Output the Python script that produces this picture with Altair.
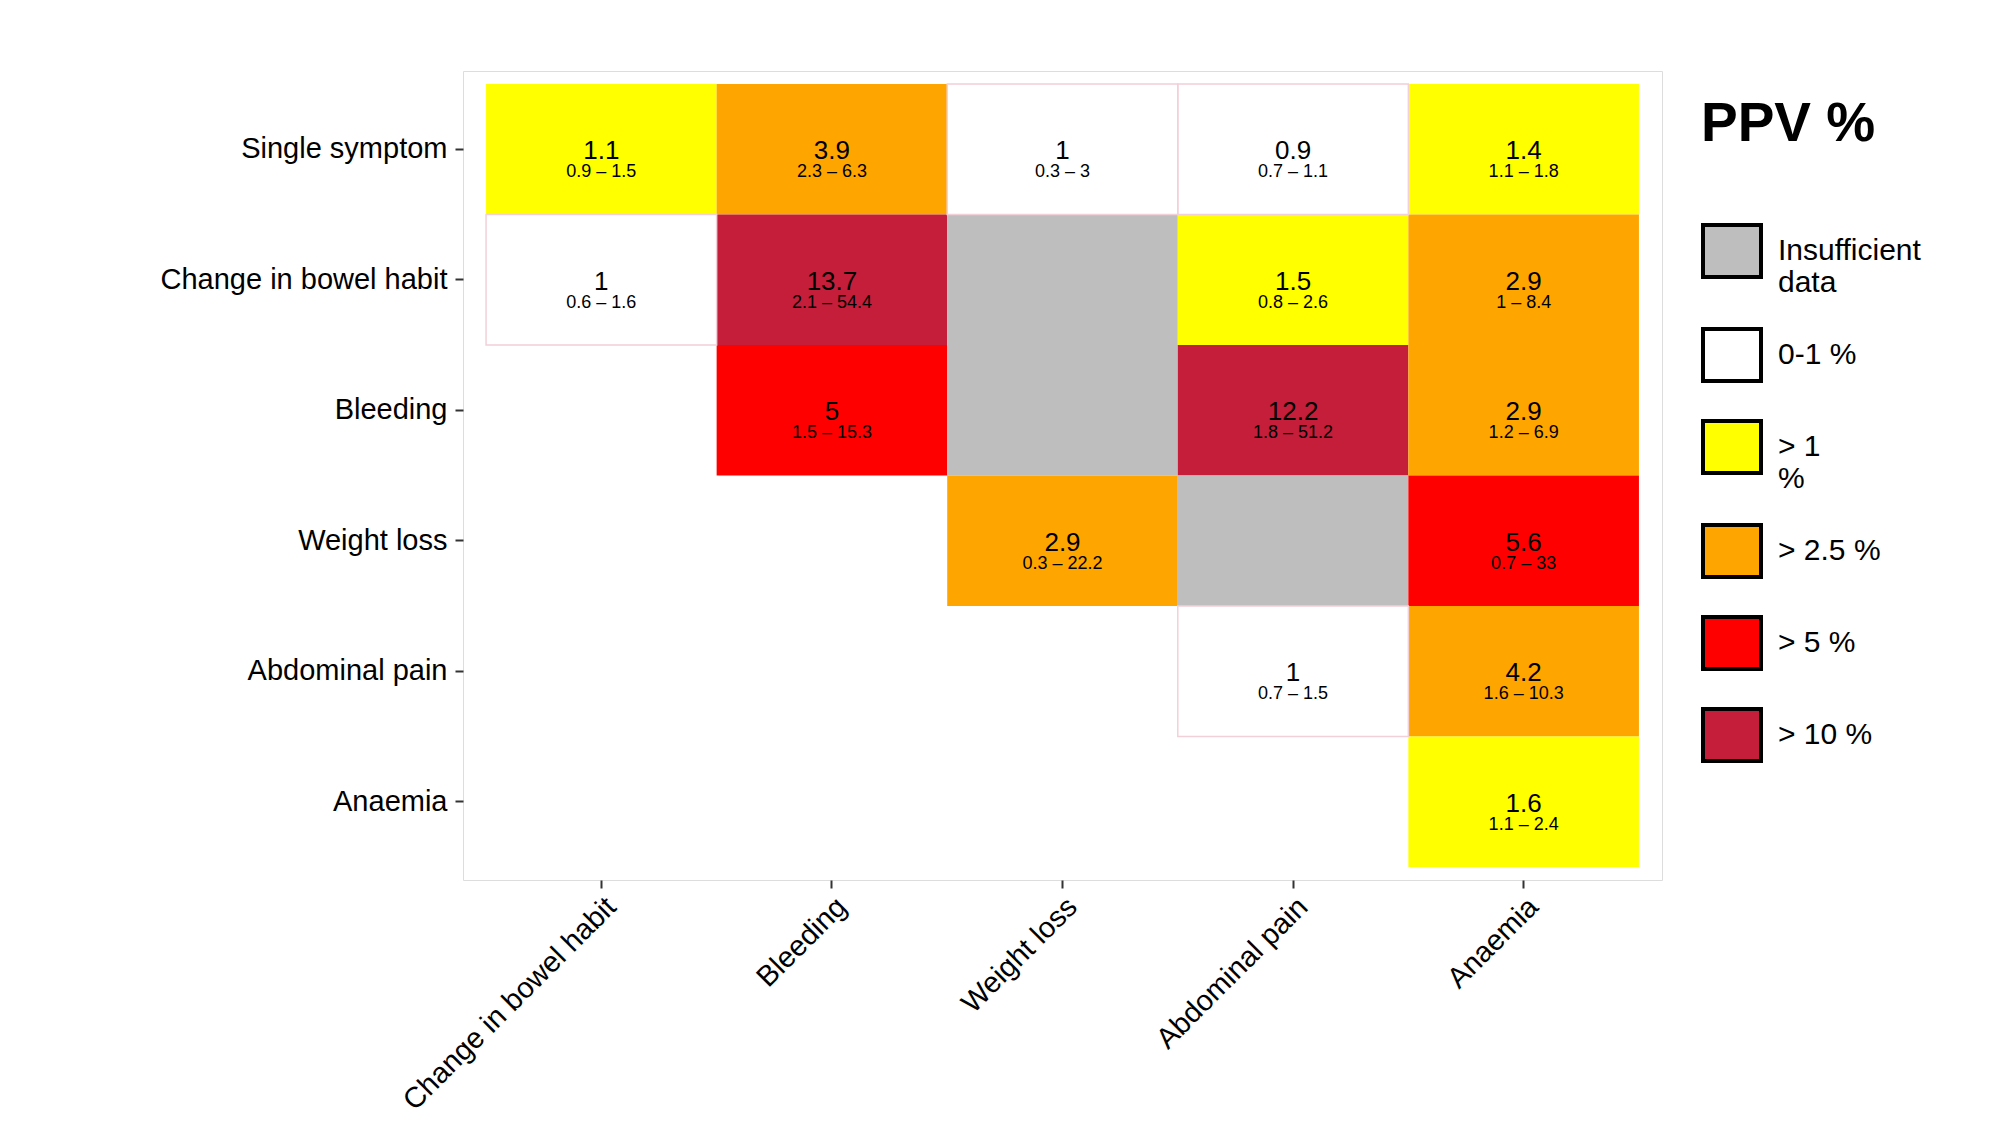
import altair as alt
import pandas as pd

rows_order = ["Single symptom", "Change in bowel habit", "Bleeding", "Weight loss",
              "Abdominal pain", "Anaemia"]
cols_order = ["Change in bowel habit", "Bleeding", "Weight loss", "Abdominal pain", "Anaemia"]

cell_row = ["Single symptom"] * 5 + ["Change in bowel habit"] * 5 + ["Bleeding"] * 4 \
    + ["Weight loss"] * 3 + ["Abdominal pain"] * 2 + ["Anaemia"]
cell_col = cols_order + cols_order + cols_order[1:] + cols_order[2:] + cols_order[3:] + cols_order[4:]

ppv = ["1.1", "3.9", "1", "0.9", "1.4",
       "1", "13.7", "", "1.5", "2.9",
       "5", "", "12.2", "2.9",
       "2.9", "", "5.6",
       "1", "4.2",
       "1.6"]
ci_low = ["0.9", "2.3", "0.3", "0.7", "1.1",
          "0.6", "2.1", "", "0.8", "1",
          "1.5", "", "1.8", "1.2",
          "0.3", "", "0.7",
          "0.7", "1.6",
          "1.1"]
ci_high = ["1.5", "6.3", "3", "1.1", "1.8",
           "1.6", "54.4", "", "2.6", "8.4",
           "15.3", "", "51.2", "6.9",
           "22.2", "", "33",
           "1.5", "10.3",
           "2.4"]
category = ["> 1 %", "> 2.5 %", "0-1 %", "0-1 %", "> 1 %",
            "0-1 %", "> 10 %", "Insufficient data", "> 1 %", "> 2.5 %",
            "> 5 %", "Insufficient data", "> 10 %", "> 2.5 %",
            "> 2.5 %", "Insufficient data", "> 5 %",
            "0-1 %", "> 2.5 %",
            "> 1 %"]

legend_cats = ["Insufficient data", "0-1 %", "> 1 %", "> 2.5 %", "> 5 %", "> 10 %"]
legend_colors = ["#bebebe", "#ffffff", "#ffff00", "#ffa500", "#ff0000", "#c41e3a"]

df = pd.DataFrame({
    "row": cell_row,
    "col": cell_col,
    "ppv": ppv,
    "ci": [f"{a} \u2013 {b}" if a else "" for a, b in zip(ci_low, ci_high)],
    "cat": category,
})

FONT = "Liberation Sans"
FS = "\u2007"   # figure space
TS = "\u2009"   # thin space

label_expr = (
    "datum.label == 'Insufficient data' ? ['Insufficient', 'data'] : "
    f"datum.label == '> 1 %' ? ['{TS}> 1', '{TS}%'] : "
    f"datum.label == '0-1 %' ? '{FS}{TS}0-1 %' : "
    f"'{TS}' + datum.label"
)

x = alt.X("col:N", sort=cols_order,
          scale=alt.Scale(domain=cols_order, paddingInner=0, paddingOuter=0.1),
          axis=alt.Axis(title=None, labelAngle=315, labelAlign="right", labelBaseline="top",
                        labelPadding=4, labelFont=FONT, labelFontSize=29, labelColor="black",
                        labelLimit=600,
                        tickSize=8, tickWidth=2, tickColor="#333333", domain=False,
                        grid=False))
y = alt.Y("row:N", sort=rows_order,
          scale=alt.Scale(domain=rows_order, paddingInner=0, paddingOuter=0.1),
          axis=alt.Axis(title=None, labelPadding=8, labelFont=FONT, labelFontSize=29,
                        labelColor="black", labelLimit=600,
                        tickSize=8, tickWidth=2, tickColor="#333333",
                        domain=False, grid=False))

base = alt.Chart(df)

tiles = base.mark_rect().encode(
    x=x, y=y,
    fill=alt.Fill("cat:N", scale=alt.Scale(domain=legend_cats, range=legend_colors),
                  legend=alt.Legend(
                      title="PPV %", orient="none", legendX=1238, legendY=27,
                      direction="vertical",
                      titleFontSize=55, titleFontWeight="bold", titleFont=FONT,
                      titleColor="black", titlePadding=67,
                      labelFontSize=30, labelFont=FONT, labelColor="black",
                      labelOffset=15, labelLimit=400,
                      labelExpr=label_expr,
                      symbolType="M-1,-0.9L1,-0.9L1,0.9L-1,0.9Z",
                      symbolSize=3364, symbolStrokeColor="black", symbolStrokeWidth=4,
                      symbolOpacity=1, rowPadding=22,
                  )),
)

outline = base.transform_filter("datum.cat == '0-1 %'").mark_rect(
    filled=False, stroke="#f2d0d8", strokeWidth=1.5
).encode(x=x, y=y)

main_text = base.transform_filter("datum.ppv != ''").mark_text(
    font=FONT, fontSize=26, color="black", baseline="alphabetic", dy=10
).encode(x=x, y=y, text="ppv:N")

ci_text = base.transform_filter("datum.ppv != ''").mark_text(
    font=FONT, fontSize=18, color="black", baseline="alphabetic", dy=28
).encode(x=x, y=y, text="ci:N")

chart = alt.layer(tiles, outline, main_text, ci_text).properties(
    width=1199, height=809,
    autosize=alt.AutoSizeParams(type="none"),
    padding={"left": 455, "top": 63, "right": 300, "bottom": 235},
).configure_view(
    stroke="#999999", strokeWidth=2
).configure(background="white")

chart.save("out.html", embed_options={"renderer": "svg", "actions": False})
